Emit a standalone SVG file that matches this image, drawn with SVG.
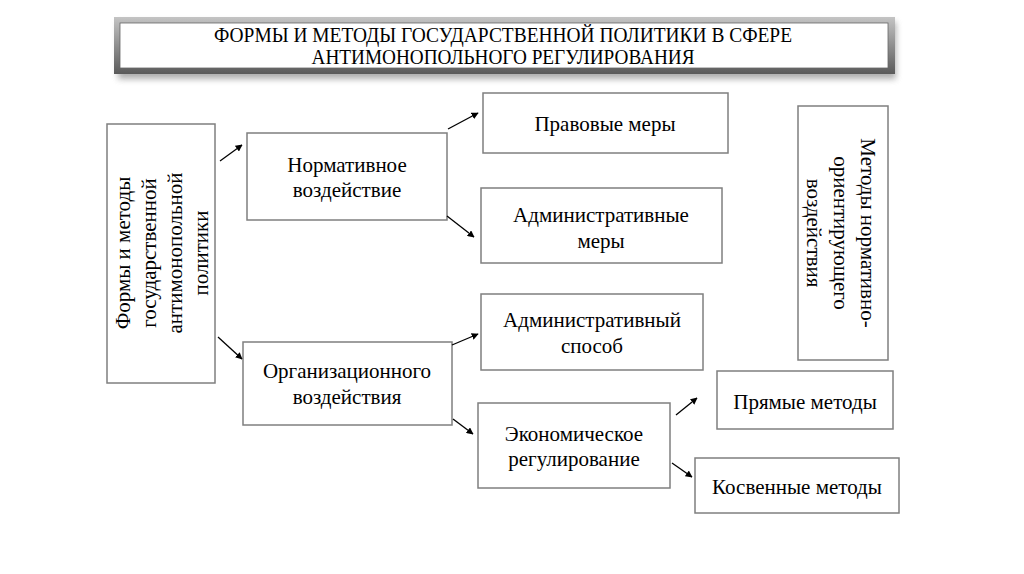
<svg xmlns="http://www.w3.org/2000/svg" width="1024" height="574" viewBox="0 0 1024 574">
<defs>
<style>
.box{fill:#fff;stroke:#7f7f7f;stroke-width:1.5}
.c line{stroke:#000;stroke-width:1.3;marker-end:url(#ah)}
</style>
<marker id="ah" viewBox="0 0 10 10" refX="9" refY="5" markerWidth="7" markerHeight="7" markerUnits="userSpaceOnUse" orient="auto">
<path d="M0,0 L10,5 L0,10 z" fill="#000"/>
</marker>
<linearGradient id="fr" x1="0" y1="0" x2="0" y2="1">
<stop offset="0" stop-color="#c4c4c4"/>
<stop offset="0.5" stop-color="#8f8f8f"/>
<stop offset="1" stop-color="#5a5a5a"/>
</linearGradient>
<filter id="sh" x="-5%" y="-20%" width="110%" height="160%">
<feGaussianBlur stdDeviation="3"/>
</filter>
</defs>
<rect width="1024" height="574" fill="#fff"/>
<g font-family="'Liberation Serif', 'Times New Roman', serif" fill="#000" text-anchor="middle" font-size="21">
<g id="title">
<rect x="118" y="22" width="778" height="57" fill="#777" opacity="0.6" filter="url(#sh)"/>
<rect x="114" y="17" width="781" height="57" fill="url(#fr)"/>
<rect x="120" y="23" width="768" height="45" fill="#fff" stroke="#666" stroke-width="0.8"/>
<text x="503" y="42" font-size="20" textLength="578" lengthAdjust="spacingAndGlyphs">ФОРМЫ И МЕТОДЫ ГОСУДАРСТВЕННОЙ ПОЛИТИКИ В СФЕРЕ</text>
<text x="503" y="64" font-size="20" textLength="383" lengthAdjust="spacingAndGlyphs">АНТИМОНОПОЛЬНОГО РЕГУЛИРОВАНИЯ</text>
</g>
<g id="n-root">
<rect class="box" x="107" y="124" width="108" height="259"/>
<text transform="translate(161,253) rotate(-90)"><tspan x="0" y="-31">Формы и методы</tspan><tspan x="0" y="-5">государственной</tspan><tspan x="0" y="21">антимонопольной</tspan><tspan x="0" y="47">политики</tspan></text>
</g>
<g id="n-norm">
<rect class="box" x="247" y="133" width="200" height="87"/>
<text x="347" y="172">Нормативное</text>
<text x="347" y="197">воздействие</text>
</g>
<g id="n-org">
<rect class="box" x="243" y="342" width="209" height="83"/>
<text x="347" y="378">Организационного</text>
<text x="347" y="404">воздействия</text>
</g>
<g id="n-prav">
<rect class="box" x="483" y="93" width="245" height="60"/>
<text x="605" y="131">Правовые меры</text>
</g>
<g id="n-admmer">
<rect class="box" x="481" y="188" width="241" height="75"/>
<text x="601" y="222">Административные</text>
<text x="601" y="248">меры</text>
</g>
<g id="n-admsp">
<rect class="box" x="481" y="294" width="222" height="76"/>
<text x="592" y="327">Административный</text>
<text x="592" y="353">способ</text>
</g>
<g id="n-metody">
<rect class="box" x="798" y="106" width="90" height="254"/>
<text transform="translate(843,233) rotate(90)"><tspan x="0" y="-18">Методы нормативно-</tspan><tspan x="0" y="9">ориентирующего</tspan><tspan x="0" y="36">воздействия</tspan></text>
</g>
<g id="n-ekon">
<rect class="box" x="478" y="403" width="192" height="85"/>
<text x="574" y="441">Экономическое</text>
<text x="574" y="466">регулирование</text>
</g>
<g id="n-pryam">
<rect class="box" x="717" y="371" width="176" height="58"/>
<text x="805" y="409">Прямые методы</text>
</g>
<g id="n-kosv">
<rect class="box" x="695" y="458" width="204" height="55"/>
<text x="797" y="494">Косвенные методы</text>
</g>
</g>
<g id="connectors" class="c">
<line x1="220" y1="161" x2="242" y2="145"/>
<line x1="218" y1="337" x2="242" y2="359"/>
<line x1="448" y1="129" x2="478" y2="113"/>
<line x1="447" y1="216" x2="474" y2="237"/>
<line x1="452" y1="345" x2="478" y2="334"/>
<line x1="453" y1="419" x2="473" y2="434"/>
<line x1="676" y1="415" x2="697" y2="398"/>
<line x1="672" y1="463" x2="692" y2="477"/>
</g>
</svg>
